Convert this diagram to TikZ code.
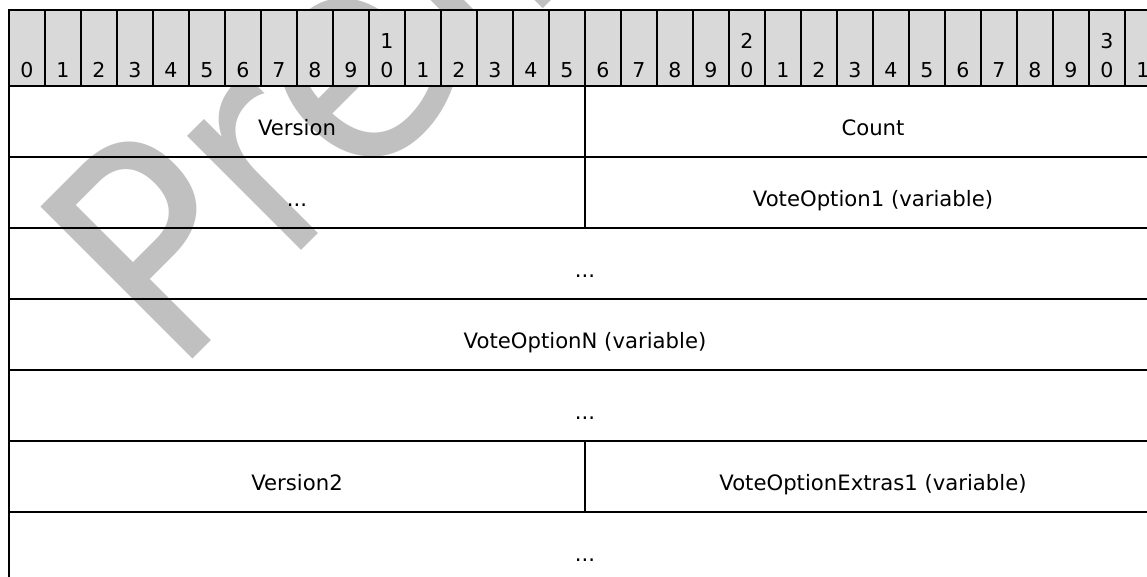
\documentclass[tikz,border=0pt]{standalone}
\usepackage{fontspec}
\setmainfont{DejaVu Sans}
\usetikzlibrary{positioning}
\definecolor{hdrgray}{HTML}{D9D9D9}
\definecolor{wmgray}{HTML}{C0C0C0}

\tikzset{
  bitcell/.style={draw, fill=hdrgray, line width=1.1pt, minimum width=36pt, minimum height=76pt, inner sep=0pt, outer sep=0pt},
  bitnum/.style={inner sep=0pt, anchor=base, font=\fontsize{20.5}{29}\selectfont},
  field/.style={draw, line width=1.2pt, minimum height=71pt, inner sep=0pt, outer sep=0pt, text height=27pt, text depth=0pt, font=\fontsize{21.2}{25}\selectfont},
  half/.style={field, minimum width=576pt},
  full/.style={field, minimum width=1152pt},
  wmark/.style={text=wmgray, inner sep=0pt, anchor=base west, rotate=45, xscale=.9, font=\fontsize{295}{300}\selectfont}
}

\begin{document}
\begin{tikzpicture}[x=1pt,y=-1pt]
        \useasboundingbox (0,0) rectangle (1147,576);
        \clip (0,0) rectangle (1147,576);

        \coordinate (wmo) at (174.5,377.5);
        \node[wmark] (wm) at (wmo) {Preliminary};

        \foreach \i in {0,...,31}{
          \pgfmathtruncatemacro\ones{mod(\i,10)}
          \node[bitcell] (b\i) at (27+36*\i,48) {};
          \node[bitnum] (n\i) at ([yshift=8.7pt]b\i.south) {\ones};
        }
        \foreach \i in {10,20,30}{
          \pgfmathtruncatemacro\tens{\i/10}
          \node[bitnum] (t\i) at ([yshift=29pt]n\i.base) {\tens};
        }

        \node[half] (ver) at (297,121.5) {Version};
        \node[half,right=0pt of ver] (cnt) {Count};
        \node[half,below=0pt of ver] (el1) {...};
        \node[half,below=0pt of cnt] (vo1) {VoteOption1 (variable)};
        \node[full,below=0pt of el1.south east] (el2) {...};
        \node[full,below=0pt of el2] (von) {VoteOptionN (variable)};
        \node[full,below=0pt of von] (el3) {...};
        \node[half,below right=0pt of el3.south west] (ver2) {Version2};
        \node[half,right=0pt of ver2] (vox1) {VoteOptionExtras1 (variable)};
        \node[full,below=0pt of ver2.south east] (el4) {...};
      \end{tikzpicture}
\end{document}
